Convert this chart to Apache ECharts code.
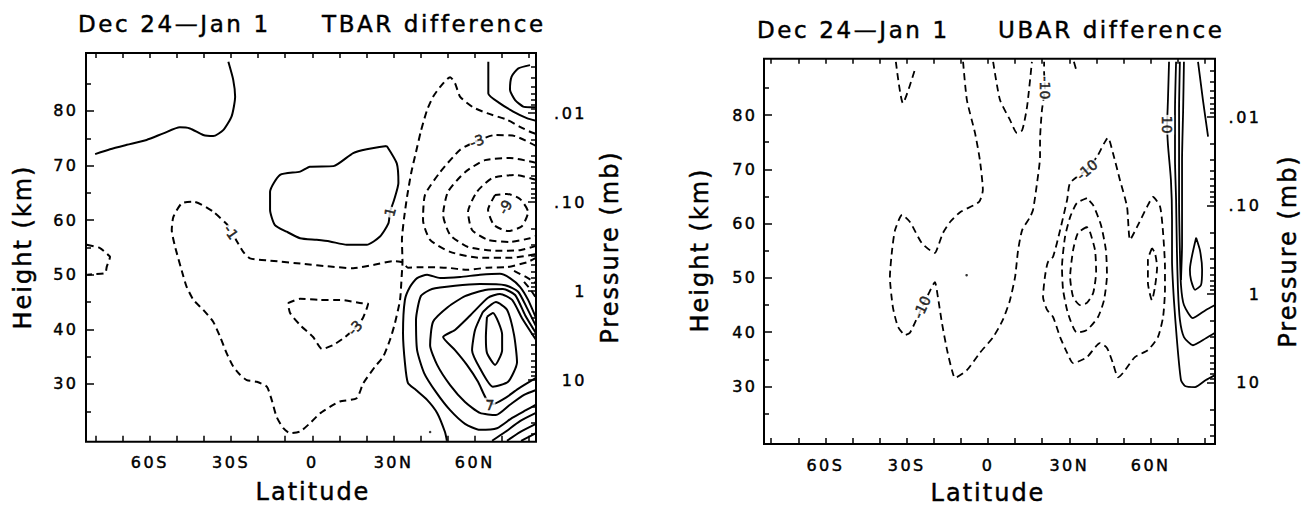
<!DOCTYPE html>
<html>
<head>
<meta charset="utf-8">
<script src="https://cdn.jsdelivr.net/npm/echarts@6/dist/echarts.min.js"></script>
<style>
  html, body { margin: 0; padding: 0; background: #fff; }
  #chart { width: 1312px; height: 505px; }
  /* wide, pen-plotter style lettering */
  #chart text { stroke: #000; stroke-width: 0.45px; }
  #chart text[style*="23px"] { letter-spacing: 2.6px; }
  #chart text[style*="24px"] { letter-spacing: 2px; }
  #chart text[style*="16px"] { letter-spacing: 2.5px; }
</style>
</head>
<body>
<div id="chart"></div>
<script>
// ---------- axis ticks and labels ----------
const latTicks = [-80, -70, -60, -50, -40, -30, -20, -10, 0, 10, 20, 30, 40, 50, 60, 70, 80];
const latLabelValues = [-60, -30, 0, 30, 60];
const latLabels = ['60S', '30S', '0', '30N', '60N'];
const heightMajor = [30, 40, 50, 60, 70, 80];
const heightMinor = [25, 35, 45, 55, 65, 75, 85];
const pressureMajor = [0.01, 0.1, 1, 10];
const pressureLabels = ['.01', '.10', '1', '10'];
const pressureMinor = [0.003, 0.004, 0.005, 0.006, 0.007, 0.008, 0.009,
                       0.02, 0.03, 0.04, 0.05, 0.06, 0.07, 0.08, 0.09,
                       0.2, 0.3, 0.4, 0.5, 0.6, 0.7, 0.8, 0.9,
                       2, 3, 4, 5, 6, 7, 8, 9, 20, 30, 40];

// plotted latitude / height extents of each panel
const tbarLatRange = [-83.57, 82.61];
const tbarHeightRange = [19.43, 90.62];
const ubarLatRange = [-82.66, 83.76];
const ubarHeightRange = [19.41, 90.37];

// ---------- TBAR difference (K): contour lines as [latitude, height km] ----------
const tbarWarmNW = [[-80.2,72.1],[-74.7,73.0],[-68.5,73.8],[-61.2,74.7],[-55.0,75.9],[-48.9,77.0],[-45.2,76.8],[-40.3,75.6],[-36.6,75.4],[-32.9,76.5],[-29.8,79.0],[-28.5,82.6],[-29.2,85.7],[-31.0,89.0]];
const tbarCoolSW = [[-83.3,55.5],[-78.4,54.9],[-75.3,53.6],[-74.7,53.3],[-75.9,51.5],[-76.5,50.3],[-80.9,50.1],[-83.1,50.0]];
const tbarCoolBand = [[-30.8,58.9],[-36.7,61.6],[-43.9,63.4],[-48.2,63.1],[-51.3,60.6],[-51.9,58.2],[-50.7,55.2],[-47.6,49.7],[-46.4,47.8],[-43.9,45.4],[-40.3,43.6],[-36.6,41.4],[-34.1,38.7],[-31.6,35.6],[-29.2,33.2],[-26.7,31.7],[-24.2,30.7],[-20.5,30.4],[-16.8,29.5],[-15.0,27.1],[-13.2,24.0],[-10.7,21.9],[-8.2,21.0],[-4.5,21.3],[-0.9,22.8],[2.8,24.6],[6.5,25.8],[10.2,26.8],[16.4,27.4],[18.8,30.1],[23.2,33.2],[26.2,35.0],[28.7,38.1],[30.5,41.1],[32.4,45.4],[33.0,49.7],[33.3,52.3],[33.1,56.4],[33.9,60.4],[35.0,64.3],[36.5,68.6],[38.3,72.5],[40.1,76.3],[42.4,80.2],[44.6,82.6],[47.2,84.4],[50.9,86.2],[52.7,85.1],[54.6,82.6],[59.3,80.7],[64.5,79.6],[71.9,78.4],[76.7,77.1],[80.4,76.2],[82.6,75.8]];
const tbarCoolShelf = [[-28.5,56.7],[-25.5,54.2],[-23.0,53.0],[-15.6,52.6],[-3.3,52.0],[6.6,51.5],[15.1,51.2],[22.5,51.8],[29.8,52.5],[33.3,52.3],[35.3,51.3],[40.9,51.4],[49.7,51.3],[57.1,50.9],[64.5,51.3],[71.9,51.4],[79.3,52.3],[82.6,53.1]];
const tbarCoolCore = [[-9.0,44.8],[-4.5,45.6],[2.8,45.4],[10.2,45.4],[18.4,44.8],[20.6,44.7],[18.7,42.1],[15.8,40.3],[12.1,38.6],[7.6,37.1],[3.6,36.4],[0.3,38.6],[-4.5,40.8],[-8.2,43.0],[-9.0,44.8]];
const tbarWarmCore = [[27.5,73.6],[31.2,70.4],[31.8,66.8],[30.2,63.7],[28.7,61.5],[28.1,59.4],[25.0,57.0],[20.1,55.5],[12.7,55.5],[6.5,56.1],[1.6,56.4],[-4.5,56.7],[-9.5,57.9],[-13.8,59.1],[-15.6,61.9],[-15.6,65.2],[-11.9,68.3],[-4.5,68.9],[-0.9,69.8],[7.8,69.9],[15.1,72.3],[20.1,73.0],[27.5,73.6]];
const tbarPole3 = [[82.6,73.6],[74.9,75.4],[67.5,75.6],[60.8,74.5],[54.6,72.9],[47.2,68.8],[41.6,64.6],[40.9,60.0],[43.5,56.4],[50.9,54.2],[61.9,53.1],[73.0,53.1],[82.6,53.8]];
const tbarPole5 = [[82.6,70.5],[73.0,71.4],[63.8,71.0],[56.4,68.8],[50.1,65.2],[48.3,61.0],[50.9,57.3],[57.5,55.1],[67.5,54.4],[76.7,54.5],[82.6,55.3]];
const tbarPole7 = [[82.6,67.4],[74.9,68.3],[66.4,67.7],[60.8,65.2],[57.5,61.5],[59.0,58.2],[64.9,56.4],[73.0,56.0],[80.4,56.7],[82.6,57.1]];
const tbarPole9 = [[67.5,64.6],[64.9,61.9],[67.1,59.1],[72.3,58.0],[77.4,58.9],[79.7,61.5],[76.7,63.9],[71.9,64.8],[67.5,64.6]];
const tbarPolarTopA = [[65.0,89.0],[65.0,83.2],[69.3,81.4],[74.2,79.9],[79.2,78.7],[82.6,78.2]];
const tbarPolarTopB = [[80.4,88.4],[76.1,87.8],[73.6,86.3],[73.0,83.9],[74.9,82.0],[77.9,80.8],[80.4,80.7],[82.6,80.7]];
const tbarWarm1 = [[82.6,42.1],[79.7,45.4],[76.7,47.8],[73.0,49.4],[69.3,50.2],[61.9,50.0],[54.6,49.6],[47.2,49.4],[42.4,50.0],[38.7,49.4],[36.1,47.8],[34.2,45.4],[33.5,39.3],[34.2,33.9],[35.3,30.2],[38.3,28.9],[42.4,27.1],[46.1,24.7],[49.0,21.2],[49.7,19.6]];
const tbarWarm3 = [[82.6,40.6],[79.3,43.9],[76.0,46.9],[71.2,48.1],[61.9,48.3],[52.7,48.0],[44.2,47.4],[40.1,46.1],[38.3,41.7],[38.7,36.2],[41.3,32.0],[45.7,28.5],[50.9,25.2],[56.4,22.7],[61.9,21.6],[68.2,21.9],[73.8,23.8],[78.9,25.2],[82.6,26.2]];
const tbarWarm5 = [[82.6,39.3],[78.6,42.6],[74.9,46.3],[70.4,47.4],[63.8,47.2],[56.4,46.1],[50.1,44.1],[44.6,41.4],[43.5,37.1],[46.1,33.5],[50.9,29.8],[56.4,26.7],[61.9,24.7],[67.8,24.3],[73.0,26.2],[78.2,28.0],[82.6,28.9]];
const tbarWarm7 = [[82.6,38.1],[77.4,42.1],[73.8,45.4],[69.3,46.5],[64.9,45.8],[58.2,42.5],[52.7,39.9],[48.3,38.6],[52.7,36.2],[57.1,33.5],[61.2,30.4],[64.1,27.4],[66.7,26.3],[71.2,27.4],[76.0,29.1],[82.6,31.1]];
const tbarWarm9 = [[63.0,43.2],[67.8,45.0],[71.9,43.6],[74.5,39.0],[75.6,34.0],[72.3,30.4],[66.7,29.5],[61.9,32.9],[59.0,36.2],[60.1,39.9],[63.0,43.2]];
const tbarWarm11 = [[64.5,42.3],[66.7,43.0],[70.1,39.0],[70.1,36.2],[67.5,33.5],[64.5,35.7],[64.1,38.6],[64.5,42.3]];
const tbarCornerA = [[66.4,19.6],[71.2,21.2],[76.7,23.2],[82.6,24.7]];
const tbarCornerB = [[71.9,19.6],[76.7,21.2],[82.6,22.7]];
const tbarCornerC = [[77.1,19.6],[82.6,21.0]];
const tbarPolarLowA = [[74.5,50.7],[78.9,49.6],[82.6,48.5]];
const tbarPolarLowB = [[78.2,48.7],[80.4,47.4],[82.6,45.8]];
const tbarSpecks = [[43.5,21.2]];

// contour level of each line
const tbarContours = [
  [1, tbarWarmNW], [-1, tbarCoolSW], [-1, tbarCoolBand], [-1, tbarCoolShelf],
  [-3, tbarCoolCore], [1, tbarWarmCore],
  [-3, tbarPole3], [-5, tbarPole5], [-7, tbarPole7], [-9, tbarPole9],
  [1, tbarPolarTopA], [3, tbarPolarTopB],
  [1, tbarWarm1], [3, tbarWarm3], [5, tbarWarm5], [7, tbarWarm7], [9, tbarWarm9], [11, tbarWarm11],
  [3, tbarCornerA], [5, tbarCornerB], [7, tbarCornerC],
  [-1, tbarPolarLowA], [-3, tbarPolarLowB]
];
// inline contour labels: [latitude, height, level]
const tbarLabels = [[-30.0,57.8,-1],[60.8,74.5,-3],[28.7,61.5,1],[15.8,40.3,-3],[65.6,26.2,7],[71.2,62.4,-9]];

// ---------- UBAR difference (m/s) ----------
const ubarCoolV = [[-34.0,89.8],[-31.4,82.2],[-26.9,88.5]];
const ubarCoolMain = [[-9.2,89.8],[-7.8,82.8],[-4.8,76.7],[-3.0,71.7],[-1.9,66.2],[-3.3,64.0],[-10.3,62.1],[-14.0,60.3],[-16.6,58.3],[-18.5,55.7],[-19.6,54.6],[-24.4,56.4],[-28.8,60.3],[-31.7,61.6],[-34.3,58.8],[-35.4,55.1],[-36.2,50.2],[-35.1,44.6],[-33.2,41.0],[-30.6,39.5],[-28.8,39.9],[-24.4,44.6],[-22.1,46.9],[-19.6,49.2],[-18.5,46.5],[-17.0,41.7],[-15.1,36.7],[-13.3,33.0],[-12.2,31.6],[-7.8,33.0],[-3.0,36.2],[1.9,39.1],[5.5,42.3],[8.1,45.9],[10.0,50.2],[11.1,55.1],[12.6,58.8],[15.5,61.2],[16.6,62.5],[18.1,67.5],[19.2,72.3],[19.2,75.4],[19.9,80.9],[21.0,85.0],[20.7,87.9],[20.7,89.8]];
const ubarCoolCap = [[1.9,89.8],[4.4,82.8],[8.1,79.1],[10.7,76.7],[12.6,77.2],[14.4,81.5],[16.2,89.8]];
const ubarCoolStub = [[31.7,89.8],[32.8,87.9]];
const ubarCoolRidge = [[36.5,69.9],[30.3,67.5],[29.2,64.4],[26.6,58.8],[24.0,53.9],[22.1,52.9],[21.0,50.2],[20.3,46.5],[21.8,44.1],[24.0,42.8],[26.6,39.1],[29.2,36.2],[31.4,34.3],[36.5,35.4],[41.3,38.0],[43.9,37.1],[46.1,34.3],[48.0,31.7],[49.8,32.5],[54.2,35.4],[59.0,36.7],[62.7,39.1],[64.6,42.8],[65.3,47.8],[65.3,52.0],[64.6,58.3],[63.5,63.1],[60.9,64.9],[58.7,63.1],[55.0,59.4],[52.4,57.0],[51.3,63.1],[48.7,68.0],[46.1,73.0],[44.3,75.8],[40.2,72.3],[36.5,69.9]];
const ubarCoolRing20 = [[36.5,64.7],[32.8,63.8],[30.3,61.2],[28.4,57.5],[27.3,52.0],[27.7,47.8],[29.5,43.5],[32.8,39.9],[36.5,40.4],[40.6,42.8],[42.8,45.9],[43.9,50.5],[43.5,55.1],[41.7,59.7],[38.8,63.4],[36.5,64.7]];
const ubarCoolRing30 = [[36.5,59.4],[33.2,58.3],[31.4,55.1],[30.3,50.2],[31.4,46.5],[34.0,45.0],[36.5,45.4],[38.8,47.2],[39.9,51.1],[39.5,55.1],[37.6,58.5],[36.5,59.4]];
const ubarCoolPocket = [[60.5,55.5],[59.0,53.3],[59.0,49.1],[60.5,45.9],[61.6,48.3],[62.4,52.0],[61.6,54.6],[60.5,55.5]];
const ubarWarm10 = [[66.8,89.8],[66.4,82.8],[66.1,78.2],[66.4,74.5],[67.5,68.0],[67.9,60.7],[67.9,53.3],[68.6,45.9],[69.7,38.6],[71.2,31.2],[72.7,30.1],[76.4,29.9],[80.4,31.2],[83.8,32.1]];
const ubarWarm20 = [[69.4,89.8],[69.0,80.9],[69.0,71.7],[69.4,64.4],[69.7,55.1],[70.1,47.8],[70.8,42.3],[72.3,39.1],[75.6,37.6],[80.4,38.9],[83.8,39.9]];
const ubarWarm30 = [[70.8,89.8],[70.5,80.9],[70.5,71.7],[70.5,64.4],[70.8,55.1],[71.2,48.7],[72.3,45.0],[75.6,42.6],[80.4,44.1],[83.8,45.0]];
const ubarWarm40 = [[72.3,89.8],[72.0,80.9],[71.6,71.7],[71.6,64.4],[71.6,56.1],[71.2,49.6]];
const ubarWarmEdge = [[77.5,89.8],[79.3,82.8],[81.2,76.0]];
const ubarWarmCore = [[76.8,57.4],[74.5,51.5],[74.9,49.6],[76.4,47.8],[78.6,48.7],[79.0,51.5],[78.2,55.1],[76.8,57.4]];
const ubarSpecks = [[-7.9,50.5]];

const ubarContours = [
  [-10, ubarCoolV], [-10, ubarCoolMain], [-10, ubarCoolCap], [-10, ubarCoolStub],
  [-10, ubarCoolRidge], [-20, ubarCoolRing20], [-30, ubarCoolRing30], [-20, ubarCoolPocket],
  [10, ubarWarm10], [20, ubarWarm20], [30, ubarWarm30], [40, ubarWarm40],
  [10, ubarWarmEdge], [50, ubarWarmCore]
];
const ubarLabels = [[-24.4,44.6,-10],[21.0,85.0,-10],[36.5,69.9,-10],[66.1,78.2,10]];

// ---------- drawing ----------
const FONT = 'DejaVu Sans';
const INK = '#000';
// log-pressure scale beside the height scale (about 16.3 km per decade, 1 mb near 47 km)
const KM_PER_DECADE = 16.3;
const KM_AT_1MB = 47;
const pressureAt = h => Math.pow(10, (KM_AT_1MB - h) / KM_PER_DECADE);

const panels = [
  { box: { left: 86, top: 53, width: 450, height: 388.7 }, lat: tbarLatRange, hgt: tbarHeightRange,
    contours: tbarContours, labels: tbarLabels, specks: tbarSpecks,
    tilt: [-55, 18, 75, 46, 0, 60], lineWidth: 2, heightMargin: 7.5, pressureMargin: 51 },
  { box: { left: 764, top: 58.7, width: 451, height: 385.3 }, lat: ubarLatRange, hgt: ubarHeightRange,
    contours: ubarContours, labels: ubarLabels, specks: ubarSpecks,
    tilt: [65, -90, 40, -90], lineWidth: 1.8, heightMargin: 6.5, pressureMargin: 46.5 }
];

const tickLine = { color: INK, width: 1.5 };
const tickFont = { fontSize: 16, fontFamily: FONT, color: INK };
const noLine = { show: false, onZero: false };
const grids = [], xAxes = [], yAxes = [], series = [];

panels.forEach((p, gi) => {
  grids.push(Object.assign({ show: true, borderColor: INK, borderWidth: 2, backgroundColor: '#fff' }, p.box));

  const xi = xAxes.length;
  xAxes.push({
    type: 'value', gridIndex: gi, position: 'bottom', min: p.lat[0], max: p.lat[1],
    axisLine: noLine, splitLine: { show: false },
    axisTick: { show: true, inside: true, length: 6, customValues: latTicks, lineStyle: tickLine },
    axisLabel: Object.assign({ customValues: latLabelValues, margin: 13,
      formatter: v => { const k = latLabelValues.indexOf(v); return k >= 0 ? latLabels[k] : ''; } }, tickFont)
  });
  xAxes.push({
    type: 'value', gridIndex: gi, position: 'top', min: p.lat[0], max: p.lat[1],
    axisLine: noLine, splitLine: { show: false },
    axisTick: { show: true, inside: true, length: 5, customValues: latTicks, lineStyle: tickLine },
    axisLabel: { show: false }
  });

  const yi = yAxes.length;
  yAxes.push({
    type: 'value', gridIndex: gi, position: 'left', min: p.hgt[0], max: p.hgt[1],
    axisLine: noLine, splitLine: { show: false },
    axisTick: { show: true, inside: true, length: 8, customValues: heightMajor, lineStyle: tickLine },
    axisLabel: Object.assign({ customValues: heightMajor, margin: p.heightMargin }, tickFont)
  });
  yAxes.push({
    type: 'value', gridIndex: gi, position: 'left', min: p.hgt[0], max: p.hgt[1],
    axisLine: noLine, splitLine: { show: false },
    axisTick: { show: true, inside: true, length: 5, customValues: heightMinor, lineStyle: tickLine },
    axisLabel: { show: false }
  });
  const pTop = pressureAt(p.hgt[1]), pBottom = pressureAt(p.hgt[0]);
  yAxes.push({
    type: 'log', logBase: 10, gridIndex: gi, position: 'right', inverse: true, min: pTop, max: pBottom,
    axisLine: noLine, splitLine: { show: false },
    axisTick: { show: true, inside: true, length: 8, customValues: pressureMajor, lineStyle: tickLine },
    axisLabel: Object.assign({ customValues: pressureMajor, align: 'right', margin: p.pressureMargin,
      formatter: v => {
        const k = pressureMajor.findIndex(q => Math.abs(Math.log10(q) - Math.log10(v)) < 1e-6);
        return k >= 0 ? pressureLabels[k] : '';
      } }, tickFont)
  });
  yAxes.push({
    type: 'log', logBase: 10, gridIndex: gi, position: 'right', inverse: true, min: pTop, max: pBottom,
    axisLine: noLine, splitLine: { show: false },
    axisTick: { show: true, inside: true, length: 5, customValues: pressureMinor, lineStyle: tickLine },
    axisLabel: { show: false }
  });

  // contour lines: solid for positive, dashed for negative levels
  p.contours.forEach(([level, pts]) => {
    series.push({
      type: 'line', xAxisIndex: xi, yAxisIndex: yi, data: pts,
      showSymbol: false, symbol: 'none', smooth: 0.2, clip: true, silent: true, z: 2,
      lineStyle: { color: INK, width: p.lineWidth, type: level < 0 ? [7, 4.5] : 'solid', cap: 'butt', join: 'round' }
    });
  });

  // inline level labels
  series.push({
    type: 'scatter', xAxisIndex: xi, yAxisIndex: yi, symbolSize: 1, silent: true, z: 5,
    itemStyle: { color: 'rgba(0,0,0,0)' },
    data: p.labels.map((d, k) => ({ value: d, label: { rotate: p.tilt[k] } })),
    label: { show: true, position: 'inside', formatter: q => String(q.value[2]),
      fontSize: 14, fontFamily: FONT, color: INK, backgroundColor: '#fff', padding: [0, 1] }
  });
  // isolated specks of contour
  series.push({
    type: 'scatter', xAxisIndex: xi, yAxisIndex: yi, data: p.specks, symbolSize: 2.5, silent: true, z: 3,
    itemStyle: { color: INK }
  });
});

const textEl = (text, x, y, size, opts) => Object.assign({
  type: 'text', x, y, silent: true,
  style: { text, fontSize: size, fontFamily: FONT, fill: INK,
           align: 'left', textAlign: 'left', verticalAlign: 'middle', textVerticalAlign: 'middle' }
}, opts || {});
const centred = (text, x, y, size, rotation) => {
  const el = textEl(text, x, y, size, { rotation: rotation || 0 });
  el.style.align = el.style.textAlign = 'center';
  return el;
};

const graphic = [
  textEl('Dec 24\u2014Jan 1', 78, 24, 23),
  textEl('TBAR difference', 322, 24, 23),
  textEl('Dec 24\u2014Jan 1', 757, 29.5, 23),
  textEl('UBAR difference', 998, 29.5, 23),
  centred('Height (km)', 23, 247, 24, Math.PI / 2),
  centred('Pressure (mb)', 610, 247, 24, Math.PI / 2),
  centred('Height (km)', 700, 250, 24, Math.PI / 2),
  centred('Pressure (mb)', 1288, 251, 24, Math.PI / 2),
  centred('Latitude', 313, 492, 24),
  centred('Latitude', 988, 492.5, 24)
];

const chart = echarts.init(document.getElementById('chart'), null, { renderer: 'svg', width: 1312, height: 505 });
chart.setOption({
  animation: false,
  backgroundColor: '#fff',
  grid: grids,
  xAxis: xAxes,
  yAxis: yAxes,
  series,
  graphic
});
</script>
</body>
</html>
